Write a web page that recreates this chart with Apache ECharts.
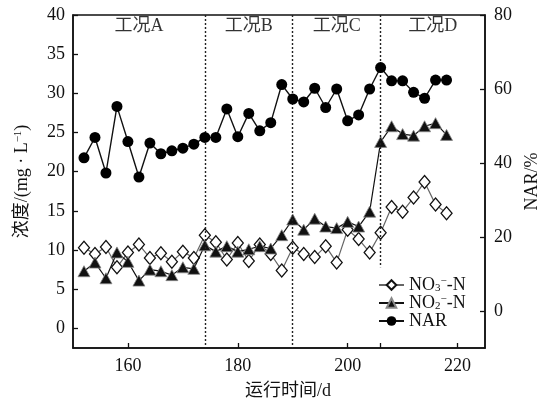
<!DOCTYPE html>
<html>
<head>
<meta charset="utf-8">
<script src="https://cdn.jsdelivr.net/npm/echarts@6/dist/echarts.min.js"></script>
<style>
html,body{margin:0;padding:0;background:#fff;}
#c{width:549px;height:405px;}
</style>
</head>
<body>
<div id="c"></div>
<script>
var days = [152,154,156,158,160,162,164,166,168,170,172,174,176,178,180,182,184,186,188,190,192,194,196,198,200,202,204,206,208,210,212,214,216,218];
var no3 = [10.3,9.5,10.4,7.8,9.7,10.7,9.0,9.6,8.5,9.8,9.0,11.9,11.0,8.8,10.9,8.6,10.7,9.5,7.4,10.3,9.5,9.1,10.5,8.4,12.6,11.4,9.7,12.2,15.5,14.9,16.7,18.7,15.8,14.7];
var no2 = [7.3,8.4,6.4,9.7,8.5,6.1,7.5,7.3,6.8,7.8,7.6,10.6,9.8,10.5,9.8,10.1,10.5,10.2,11.9,13.9,12.6,14.0,13.0,12.8,13.6,13.0,14.9,23.8,25.8,24.8,24.6,25.8,26.2,24.7];
var nar = [41.4,46.9,37.3,55.3,45.8,36.2,45.4,42.5,43.3,44.0,45.1,46.9,46.9,54.6,47.1,53.4,48.7,50.9,61.2,57.3,56.5,60.2,55.0,60.0,51.4,53.0,60.0,65.8,62.2,62.2,59.1,57.5,62.4,62.4];
var phaseNames = ['工况A','工况B','工况C','工况D'];
var phaseCenters = [162,182,198,215.5];
var phaseBounds = [174,190,206];
var xTicks = [160,180,200,220];
var leftTicks = [0,5,10,15,20,25,30,35,40];
var rightTicks = [0,20,40,60,80];

var FONT = "'Liberation Serif','Noto Sans CJK SC',serif";
var chart = echarts.init(document.getElementById('c'), null, {renderer:'canvas'});

function pairs(ys){ return days.map(function(d,i){ return [d, ys[i]]; }); }

var markLines = [
  [{coord:[phaseBounds[0],40]},{coord:[phaseBounds[0],-2.5]}],
  [{coord:[phaseBounds[1],40]},{coord:[phaseBounds[1],-2.5]}],
  [{coord:[phaseBounds[2],40]},{coord:[phaseBounds[2],7.8]}]
];
var phaseData = phaseNames.map(function(n,i){ return {value:[phaseCenters[i],38.5], name:n}; });

var axisLineStyle = {color:'#111', width:1.5};
var option = {
  animation:false,
  backgroundColor:'#fff',
  grid:{left:73, right:61, top:15, bottom:56, show:true, borderColor:'#111', borderWidth:1.5},
  legend:{
    orient:'vertical', left:373, top:271, itemWidth:25, itemHeight:12, itemGap:0,
    data:['NO3-N','NO2-N','NAR'],
    textStyle:{fontFamily:FONT, fontSize:18, color:'#111',
      rich:{
        n:{fontFamily:FONT, fontSize:18, color:'#111', lineHeight:18},
        sub:{fontFamily:FONT, fontSize:11, color:'#111', verticalAlign:'bottom', lineHeight:10},
        sup:{fontFamily:FONT, fontSize:11, color:'#111', verticalAlign:'top', lineHeight:10}
      }},
    formatter:function(name){
      if(name==='NO3-N') return '{n|NO}{sub|3}{sup|−}{n|-N}';
      if(name==='NO2-N') return '{n|NO}{sub|2}{sup|−}{n|-N}';
      return '{n|NAR}';
    }
  },
  xAxis:{
    type:'value', min:150, max:225,
    name:'运行时间/d', nameLocation:'middle', nameGap:34,
    nameTextStyle:{fontFamily:FONT, fontSize:18, color:'#111', padding:[0,0,0,18]},
    axisLine:{show:true, onZero:false, lineStyle:axisLineStyle},
    axisTick:{show:true, inside:true, length:5, customValues:xTicks.concat([phaseBounds[2]]), lineStyle:{color:'#111', width:1.3}},
    axisLabel:{customValues:xTicks, fontFamily:FONT, fontSize:18, color:'#111', margin:9},
    splitLine:{show:false}
  },
  yAxis:[{
    type:'value', min:-2.5, max:40, position:'left',
    name:'浓度/(mg · L{sup|−1})', nameLocation:'middle', nameGap:42, nameRotate:90,
    nameTextStyle:{fontFamily:FONT, fontSize:18, color:'#111',
      rich:{sup:{fontFamily:FONT, fontSize:11, color:'#111', verticalAlign:'top', lineHeight:10}}},
    axisLine:{show:true, onZero:false, lineStyle:axisLineStyle},
    axisTick:{show:true, inside:true, length:5, customValues:leftTicks, lineStyle:{color:'#111', width:1.3}},
    axisLabel:{customValues:leftTicks, fontFamily:FONT, fontSize:18, color:'#111', margin:8},
    splitLine:{show:false}
  },{
    type:'value', min:-10, max:80, position:'right',
    name:'NAR/%', nameLocation:'middle', nameGap:38, nameRotate:90,
    nameTextStyle:{fontFamily:FONT, fontSize:18, color:'#111'},
    axisLine:{show:true, onZero:false, lineStyle:axisLineStyle},
    axisTick:{show:true, inside:true, length:5, customValues:rightTicks, lineStyle:{color:'#111', width:1.3}},
    axisLabel:{customValues:rightTicks, fontFamily:FONT, fontSize:18, color:'#111', margin:9},
    splitLine:{show:false}
  }],
  series:[{
    name:'NO3-N', type:'line', yAxisIndex:0, data:pairs(no3),
    symbol:'diamond', symbolSize:[11,13],
    lineStyle:{color:'#666', width:1.2},
    itemStyle:{color:'#fff', borderColor:'#111', borderWidth:1.3},
    z:3,
    markLine:{silent:true, symbol:['none','none'], label:{show:false},
      lineStyle:{color:'#222', type:[2,2], width:1.4}, data:markLines}
  },{
    name:'NO2-N', type:'line', yAxisIndex:0, data:pairs(no2),
    symbol:'triangle', symbolSize:[12,11],
    lineStyle:{color:'#111', width:1.2},
    itemStyle:{color:'#111', borderColor:'#888', borderWidth:0.8},
    z:4
  },{
    name:'NAR', type:'line', yAxisIndex:1, data:pairs(nar),
    symbol:'circle', symbolSize:11,
    lineStyle:{color:'#111', width:1.4},
    itemStyle:{color:'#000'},
    z:5
  },{
    name:'phase', type:'scatter', yAxisIndex:0, data:phaseData, silent:true,
    symbol:'circle', symbolSize:1,
    itemStyle:{color:'rgba(0,0,0,0)'},
    label:{show:true, position:'inside', formatter:'{b}', color:'#000', fontSize:18, fontFamily:FONT},
    z:6
  }]
};
chart.setOption(option);
</script>
</body>
</html>
